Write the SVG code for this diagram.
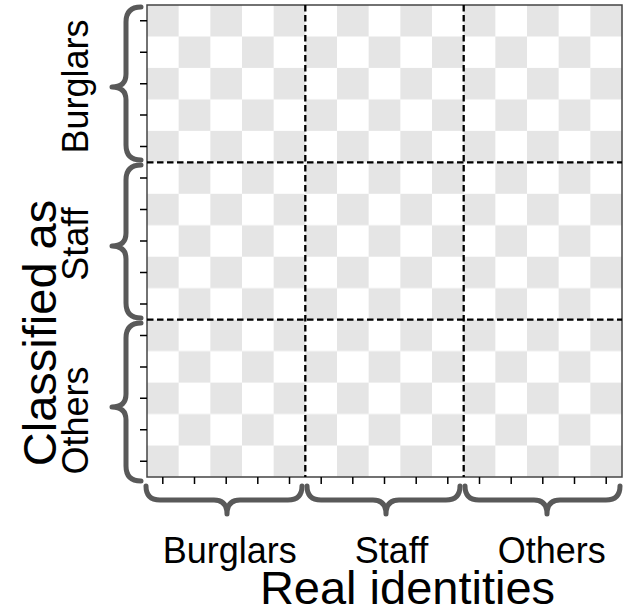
<svg xmlns="http://www.w3.org/2000/svg" width="623" height="613" viewBox="0 0 623 613">
<defs>
<pattern id="chk" patternUnits="userSpaceOnUse" x="147" y="5" width="63.333" height="62.933">
<rect x="0" y="0" width="63.333" height="62.933" fill="#ffffff"/>
<rect x="0" y="0" width="31.667" height="31.467" fill="#e5e5e5"/>
<rect x="31.667" y="31.467" width="31.667" height="31.467" fill="#e5e5e5"/>
</pattern>
<style>
.brace{fill:none;stroke:#595959;stroke-width:5;stroke-linecap:round;stroke-linejoin:round}
.dash{stroke:#000;stroke-width:2.3;stroke-dasharray:6.5,3.5;fill:none}
.tick{stroke:#000;stroke-width:1.5}
.lbl{font-family:"Liberation Sans",Arial,sans-serif;font-size:36px;fill:#000}
.title{font-family:"Liberation Sans",Arial,sans-serif;font-size:47px;fill:#000}
</style>
</defs>
<rect width="623" height="613" fill="#ffffff"/>
<g id="grid">
<rect x="147" y="5" width="475" height="472" fill="url(#chk)"/>
<rect x="147" y="5" width="475" height="472" fill="none" stroke="#444" stroke-width="1.5"/>
</g>
<g id="ticks">
<path class="tick" d="M140,20.7H147M140,52.2H147M140,83.7H147M140,115.1H147M140,146.6H147M140,178.1H147M140,209.5H147M140,241H147M140,272.5H147M140,303.9H147M140,335.4H147M140,366.9H147M140,398.3H147M140,429.8H147M140,461.3H147"/>
<path class="tick" d="M162.8,477V484M194.5,477V484M226.2,477V484M257.8,477V484M289.5,477V484M321.2,477V484M352.8,477V484M384.5,477V484M416.2,477V484M447.8,477V484M479.5,477V484M511.2,477V484M542.8,477V484M574.5,477V484M606.2,477V484"/>
</g>
<g id="connectors">
<path class="dash" d="M147,162.3H622M147,319.7H622"/>
<path class="dash" d="M305.3,5V477M463.7,5V477"/>
</g>
<g id="braces">
<path class="brace" d="M141,7Q126,7 126,22L126,74Q126,87 112,87Q126,87 126,100L126,145Q126,160 141,160"/>
<path class="brace" d="M141,165Q126,165 126,180L126,233Q126,246 112,246Q126,246 126,259L126,303Q126,318 141,318"/>
<path class="brace" d="M141,323Q126,323 126,338L126,394Q126,407 112,407Q126,407 126,420L126,466Q126,481 141,481"/>
<path class="brace" d="M146,486Q146,500 160,500L214,500Q227,500 227,514Q227,500 240,500L288,500Q302,500 302,486"/>
<path class="brace" d="M307,486Q307,500 321,500L373,500Q386,500 386,514Q386,500 399,500L446,500Q460,500 460,486"/>
<path class="brace" d="M465,486Q465,500 479,500L534,500Q547,500 547,514Q547,500 560,500L606,500Q620,500 620,486"/>
</g>
<g id="labels">
<text class="lbl" text-anchor="middle" transform="translate(88,86.5) rotate(-90)">Burglars</text>
<text class="lbl" text-anchor="middle" transform="translate(88,244) rotate(-90)">Staff</text>
<text class="lbl" text-anchor="middle" transform="translate(88,420.5) rotate(-90)">Others</text>
<text class="title" text-anchor="middle" transform="translate(56,333) rotate(-90)">Classified as</text>
<text class="lbl" x="229.7" y="562.7" text-anchor="middle">Burglars</text>
<text class="lbl" x="391.5" y="562.7" text-anchor="middle">Staff</text>
<text class="lbl" x="551.7" y="562.7" text-anchor="middle">Others</text>
<text class="title" x="407.5" y="604" text-anchor="middle">Real identities</text>
</g>
</svg>
